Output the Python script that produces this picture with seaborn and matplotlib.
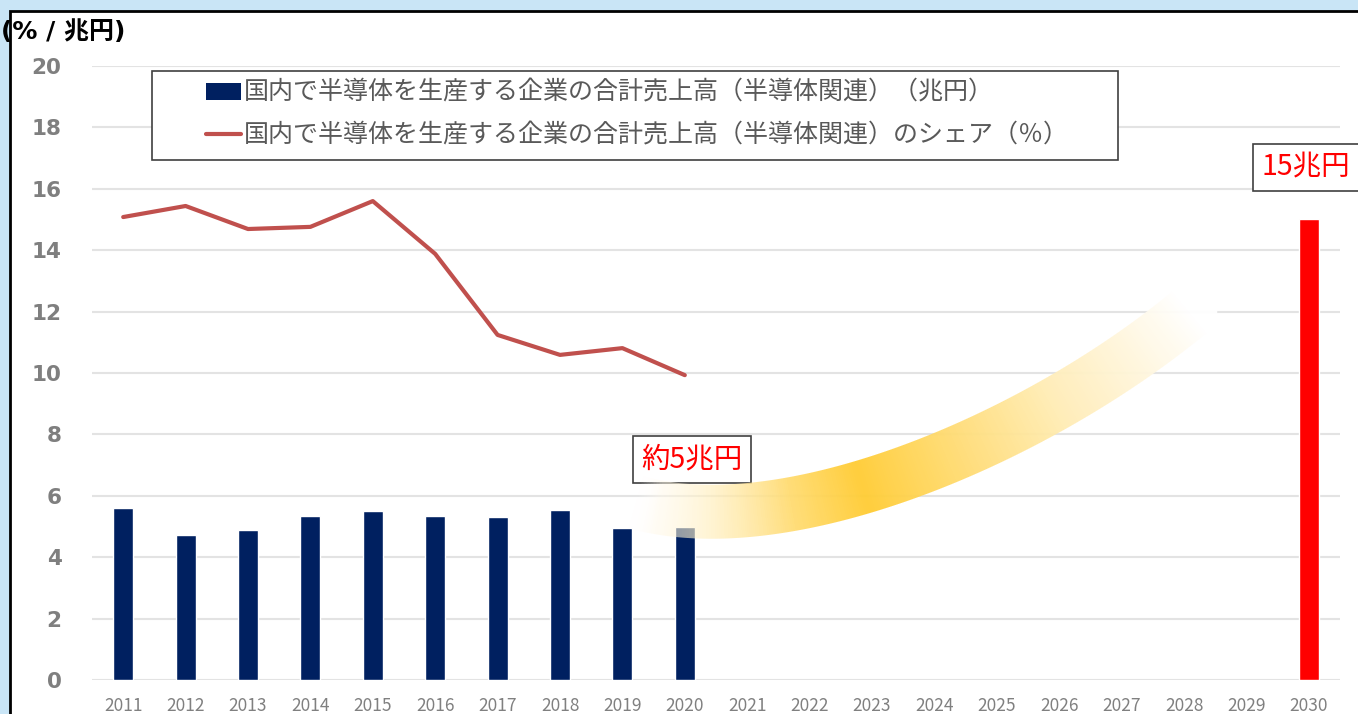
import matplotlib
matplotlib.use('Agg')
import matplotlib.pyplot as plt
import numpy as np
import pandas as pd
import seaborn as sns
from matplotlib.patches import Rectangle, Patch
from matplotlib.lines import Line2D

# data
years = [str(y) for y in range(2011, 2031)]
sales = [5.60, 4.72, 4.89, 5.34, 5.50, 5.34, 5.31, 5.54, 4.95, 4.98,
         np.nan, np.nan, np.nan, np.nan, np.nan, np.nan, np.nan, np.nan, np.nan, 15.0]
share_years = years[:10]
share = [15.08, 15.44, 14.69, 14.76, 15.60, 13.88, 11.24, 10.59, 10.81, 9.93]
yticks = list(range(0, 21, 2))

label_sales = '国内で半導体を生産する企業の合計売上高（半導体関連）（兆円）'
label_share = '国内で半導体を生産する企業の合計売上高（半導体関連）のシェア（％）'

NAVY = '#002060'
RED = '#FF0000'
LINE_RED = '#C0504D'
GREY = '#7F7F7F'

sns.set_style('white')
plt.rcParams['font.family'] = ['Noto Sans CJK JP', 'DejaVu Sans']

W, H = 1358, 714
fig = plt.figure(figsize=(W / 100, H / 100), dpi=100, facecolor='#C9E5F6')

# white slide panel with black frame on top / left
fig.patches.append(Rectangle((10 / W, -0.1), 1.2, (H - 11) / H + 0.1,
                             transform=fig.transFigure, facecolor='white',
                             edgecolor='black', lw=2, zorder=-1))

ax = fig.add_axes([92 / W, 34 / H, (1340 - 92) / W, (680 - 66) / H])
ax.patch.set_alpha(0)

df = pd.DataFrame({'year': years, 'sales': sales})
palette = {y: (RED if y == '2030' else NAVY) for y in years}
sns.barplot(data=df, x='year', y='sales', hue='year', palette=palette,
            order=years, width=0.32, dodge=False, legend=False,
            saturation=1, ax=ax, zorder=2)

share_pos = [years.index(y) for y in share_years]
sns.lineplot(x=share_pos, y=share, color=LINE_RED, lw=3, ax=ax, zorder=3)

ax.set_xlim(-0.5, len(years) - 0.5)
ax.set_ylim(0, 20)
ax.set_yticks(yticks)
ax.set_yticklabels([str(v) for v in yticks], fontsize=15.5, fontweight='bold',
                   color=GREY, family='DejaVu Sans')
ax.set_xticks(range(len(years)))
ax.set_xticklabels(years, fontsize=12.5, color='#808080')
ax.tick_params(axis='y', length=0, pad=22)
ax.tick_params(axis='x', length=0, pad=12)
ax.set_xlabel('')
ax.set_ylabel('')
ax.grid(axis='y', color='#E3E3E3', lw=1.5, zorder=0)
ax.set_axisbelow(True)
for s in ax.spines.values():
    s.set_visible(False)

fig.text(1 / W, (H - 32) / H, '(% / 兆円)', fontsize=18, fontweight='bold',
         va='center', ha='left', color='black', family=['DejaVu Sans', 'Noto Sans CJK JP'])

# legend
ax.add_patch(Rectangle((152 / W, (H - 160) / H), (1118 - 152) / W, 89 / H,
                       transform=fig.transFigure, facecolor='white',
                       edgecolor='#404040', lw=1.2, zorder=6, clip_on=False))
handles = [Patch(facecolor=NAVY, edgecolor='none'),
           Line2D([], [], color=LINE_RED, lw=3)]
leg = ax.legend(handles, [label_sales, label_share], loc='upper left',
                bbox_to_anchor=(206 / W, (H - 80) / H), bbox_transform=fig.transFigure,
                frameon=False, fontsize=18, borderpad=0, borderaxespad=0,
                handlelength=1.42, handletextpad=0.1, labelspacing=0.65)
leg.set_zorder(7)
for t in leg.get_texts():
    t.set_color('#595959')

# callouts
box = dict(boxstyle='square,pad=0.3', fc='white', ec='#404040', lw=1.2)
ax.text(9.12, 7.17, '約5兆円', color='red', fontsize=20.5, ha='center', va='center', bbox=box, zorder=6)
ax.text(18.95, 16.7, '15兆円', color='red', fontsize=20.5, ha='center', va='center', bbox=box, zorder=6)

# curved gradient arrow band (drawn in pixel space)
P = np.array([[8.2, 5.8], [10.6, 4.4], [14.6, 7.8], [17.1, 12.0]])
ts = np.linspace(0, 1, 300)
bez = ((1 - ts) ** 3)[:, None] * P[0] + (3 * (1 - ts) ** 2 * ts)[:, None] * P[1] \
    + (3 * (1 - ts) * ts ** 2)[:, None] * P[2] + (ts ** 3)[:, None] * P[3]
pts = ax.transData.transform(bez)
xs, ys = np.meshgrid(np.arange(W) + 0.5, H - (np.arange(H) + 0.5))
best = np.full(xs.shape, np.inf)
best_t = np.zeros(xs.shape)
for (px, py), t in zip(pts, ts):
    d = (xs - px) ** 2 + (ys - py) ** 2
    m = d < best
    best[m] = d[m]
    best_t[m] = t
dist = np.sqrt(best)
half = 27
edge = np.clip(half + 0.5 - dist, 0, 1)
wgold = np.interp(best_t, [0, 0.15, 0.42, 0.75, 1.0], [0.0, 0.3, 1.0, 0.35, 0.0])
alpha = np.interp(best_t, [0, 0.05, 0.3, 1.0], [0.0, 0.5, 0.95, 0.95]) * edge
gold = np.array([1.0, 0.80, 0.20])
img = np.zeros((H, W, 4))
img[..., :3] = (1 - wgold)[..., None] * np.ones(3) + wgold[..., None] * gold
img[..., 3] = alpha
fig.figimage(img, xo=0, yo=0, origin='upper', zorder=5)

plt.savefig('out.png', dpi=100, facecolor=fig.get_facecolor())
plt.close()
